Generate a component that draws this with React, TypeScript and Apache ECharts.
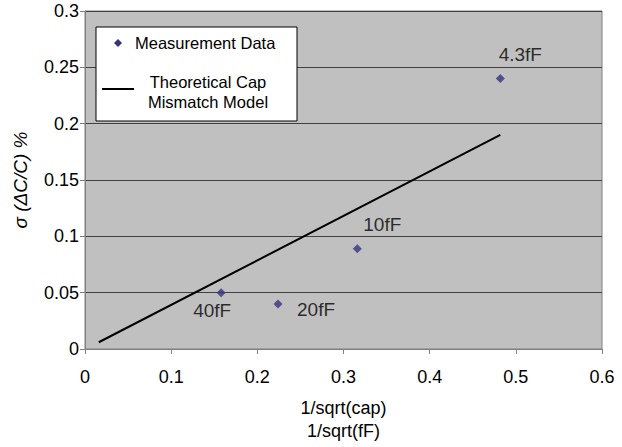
import React, { useEffect, useRef } from "react";
import * as echarts from "echarts";

const capLabels = ["40fF", "20fF", "10fF", "4.3fF"];
const measX = [0.158, 0.224, 0.316, 0.482];
const measY = [0.05, 0.04, 0.089, 0.24];
const modelX = [0.016, 0.482];
const modelY = [0.006, 0.19];
const xTicks = { min: 0, max: 0.6, interval: 0.1 };
const yTicks = { min: 0, max: 0.3, interval: 0.05 };
const legendNames = ["Measurement Data", "Theoretical Cap\nMismatch Model"];

// label placement relative to each point (style, not data)
const labelOffsets: [number, number][] = [
  [-9, 18],
  [38, 6],
  [25, -24],
  [20, -24],
];

const FONT = "Liberation Sans, Arial, sans-serif";

export default function App() {
  const ref = useRef<HTMLDivElement>(null);
  useEffect(() => {
    if (!ref.current) return;
    const chart = echarts.init(ref.current, null, { renderer: "svg" });
    const points = measX.map((x, i) => ({
      value: [x, measY[i]],
      label: {
        show: true,
        formatter: capLabels[i],
        position: "inside",
        offset: labelOffsets[i],
      },
    }));
    chart.setOption({
      animation: false,
      backgroundColor: "#ffffff",
      textStyle: { fontFamily: FONT },
      grid: {
        left: 85,
        right: 20,
        top: 11,
        bottom: 94,
        show: true,
        backgroundColor: "#c0c0c0",
        borderColor: "#808080",
        borderWidth: 1,
      },
      xAxis: {
        type: "value",
        min: xTicks.min,
        max: xTicks.max,
        interval: xTicks.interval,
        name: "1/sqrt(cap)\n1/sqrt(fF)",
        nameLocation: "middle",
        nameGap: 47,
        nameTextStyle: { fontSize: 18, color: "#000", fontFamily: FONT, lineHeight: 23 },
        axisLine: { show: true, lineStyle: { color: "#808080", width: 1 } },
        axisTick: { show: true, inside: false, length: 5, lineStyle: { color: "#808080" } },
        axisLabel: { fontSize: 18, color: "#000", fontFamily: FONT, margin: 19 },
        splitLine: { show: false },
      },
      yAxis: {
        type: "value",
        min: yTicks.min,
        max: yTicks.max,
        interval: yTicks.interval,
        name: "σ (ΔC/C) %",
        nameLocation: "middle",
        nameGap: 55,
        nameTextStyle: { fontSize: 19, color: "#000", fontFamily: FONT, fontStyle: "italic" },
        axisLine: { show: true, lineStyle: { color: "#808080", width: 1 } },
        axisTick: { show: true, inside: false, length: 5, lineStyle: { color: "#808080" } },
        axisLabel: { fontSize: 18, color: "#000", fontFamily: FONT, margin: 6 },
        splitLine: { show: true, lineStyle: { color: "#404040", width: 1 } },
      },
      series: [
        {
          name: legendNames[0],
          type: "scatter",
          symbol: "diamond",
          symbolSize: 9,
          itemStyle: { color: "#333380" },
          label: { fontSize: 19, color: "#000", fontFamily: FONT },
          data: points,
          z: 3,
        },
        {
          name: legendNames[1],
          type: "line",
          showSymbol: false,
          symbol: "none",
          lineStyle: { color: "#000", width: 2 },
          data: modelX.map((x, i) => [x, modelY[i]]),
          z: 2,
        },
      ],
      graphic: [
        {
          type: "rect",
          shape: { x: 96, y: 27, width: 201, height: 94 },
          style: { fill: "#ffffff", stroke: "#000000", lineWidth: 1 },
          z: 10,
        },
        {
          type: "polygon",
          shape: { points: [[118, 39], [122, 43], [118, 47], [114, 43]] },
          style: { fill: "#333380" },
          z: 11,
        },
        {
          type: "text",
          x: 135,
          y: 43,
          style: {
            text: legendNames[0],
            fontSize: 16.5,
            fontFamily: FONT,
            fill: "#000",
            verticalAlign: "middle",
            align: "left",
          },
          z: 11,
        },
        {
          type: "line",
          shape: { x1: 102, y1: 89, x2: 134, y2: 89 },
          style: { stroke: "#000", lineWidth: 2 },
          z: 11,
        },
        {
          type: "text",
          x: 208,
          y: 92,
          style: {
            text: legendNames[1],
            fontSize: 16.5,
            lineHeight: 20,
            fontFamily: FONT,
            fill: "#000",
            verticalAlign: "middle",
            align: "center",
          },
          z: 11,
        },
      ],
    });
    return () => chart.dispose();
  }, []);
  return (
    <div
      ref={ref}
      style={{ position: "fixed", left: 0, top: 0, width: 622, height: 447 }}
    />
  );
}
